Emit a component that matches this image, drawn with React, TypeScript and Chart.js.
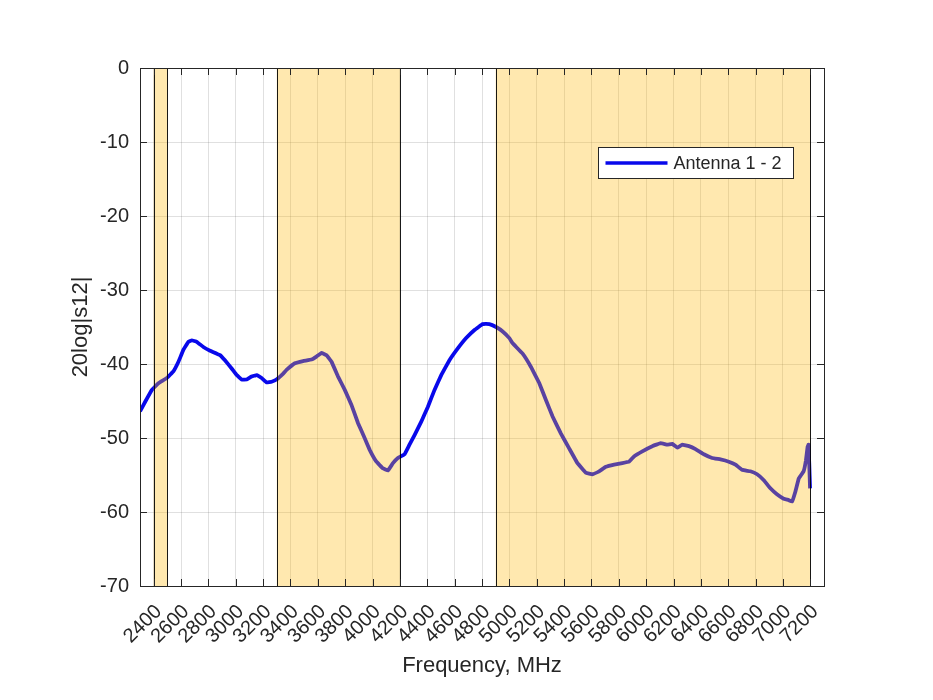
import React, { useEffect, useRef } from "react";
import { Chart, registerables } from "chart.js";

Chart.register(...registerables);

// Frequency (MHz) and 20log|s12| (dB)
const freqMHz = [
  2300, 2338, 2387, 2435, 2496, 2544, 2581, 2617, 2654, 2679, 2715, 2763, 2812, 2885, 2921, 2970,
  3007, 3043, 3080, 3116, 3153, 3189, 3226, 3262, 3298, 3347, 3371, 3432, 3492, 3554, 3590, 3627,
  3663, 3700, 3748, 3797, 3845, 3894, 3942, 3979, 4028, 4076, 4112, 4149, 4185, 4234, 4270, 4307,
  4356, 4404, 4453, 4502, 4562, 4623, 4684, 4745, 4805, 4854, 4903, 4951, 5000, 5024, 5097, 5158,
  5219, 5268, 5316, 5377, 5437, 5498, 5559, 5607, 5656, 5705, 5766, 5826, 5875, 5911, 5972, 6045,
  6106, 6154, 6191, 6227, 6264, 6313, 6361, 6422, 6482, 6543, 6604, 6653, 6701, 6762, 6811, 6860,
  6908, 6956, 7005, 7042, 7066, 7090, 7115, 7151, 7168, 7180, 7187, 7192, 7198,
];
const s12dB = [
  -46.4, -45.1, -43.5, -42.6, -41.9, -41.0, -39.7, -38.1, -37.0, -36.8, -37.0, -37.7, -38.2, -38.8, -39.5, -40.6,
  -41.5, -42.1, -42.1, -41.7, -41.5, -41.9, -42.5, -42.4, -42.1, -41.3, -40.8, -39.9, -39.6, -39.4, -39.0, -38.5,
  -38.8, -39.7, -41.7, -43.5, -45.5, -48.0, -50.0, -51.6, -53.2, -54.1, -54.4, -53.4, -52.7, -52.2, -50.9, -49.6,
  -47.8, -45.8, -43.5, -41.5, -39.5, -37.9, -36.5, -35.4, -34.6, -34.6, -35.0, -35.6, -36.5, -37.2, -38.6, -40.4,
  -42.6, -44.9, -47.1, -49.4, -51.4, -53.4, -54.7, -54.9, -54.5, -53.9, -53.6, -53.4, -53.2, -52.5, -51.8, -51.1,
  -50.7, -50.9, -50.8, -51.3, -50.9, -51.1, -51.5, -52.2, -52.7, -52.9, -53.2, -53.6, -54.3, -54.5, -54.9, -55.7,
  -56.8, -57.6, -58.2, -58.4, -58.6, -57.3, -55.5, -54.5, -53.0, -51.2, -50.9, -53.4, -56.8,
];

// Highlighted frequency bands (MHz)
const bandStarts = [2400, 3300, 4900];
const bandEnds = [2500, 4200, 7200];

// Axis ticks
const xTicks = [
  2400, 2600, 2800, 3000, 3200, 3400, 3600, 3800, 4000, 4200, 4400, 4600, 4800,
  5000, 5200, 5400, 5600, 5800, 6000, 6200, 6400, 6600, 6800, 7000, 7200,
];
const yTicks = [0, -10, -20, -30, -40, -50, -60, -70];

const seriesLabel = "Antenna 1 - 2";
const xTitle = "Frequency, MHz";
const yTitle = "20log|s12|";

const FONT = "'Liberation Sans', Arial, Helvetica, sans-serif";
const AXIS_COLOR = "#262626";
const LINE_COLOR = "rgb(8,8,235)";
const BAND_FILL = "rgba(255,185,12,0.33)";

const overlayPlugin = {
  id: "overlay",
  afterDatasetsDraw(chart: any) {
    const { ctx, chartArea, scales } = chart;
    const { top, bottom, left, right } = chartArea;
    const xs = scales.x;
    ctx.save();
    ctx.beginPath();
    ctx.rect(left, top, right - left, bottom - top);
    ctx.clip();
    for (let i = 0; i < bandStarts.length; i++) {
      const x0 = xs.getPixelForValue(bandStarts[i]);
      const x1 = xs.getPixelForValue(bandEnds[i]);
      ctx.fillStyle = BAND_FILL;
      ctx.fillRect(x0, top, x1 - x0, bottom - top);
      ctx.strokeStyle = "rgba(0,0,0,0.9)";
      ctx.lineWidth = 1;
      [x0, x1].forEach((px) => {
        const p = Math.round(px) + 0.5;
        ctx.beginPath();
        ctx.moveTo(p, top);
        ctx.lineTo(p, bottom);
        ctx.stroke();
      });
    }
    ctx.restore();
  },
  afterDraw(chart: any) {
    const { ctx, chartArea, scales } = chart;
    const { top, bottom, left, right } = chartArea;
    ctx.save();
    // axes box
    ctx.strokeStyle = AXIS_COLOR;
    ctx.lineWidth = 1;
    ctx.strokeRect(Math.round(left) + 0.5, Math.round(top) + 0.5, Math.round(right - left), Math.round(bottom - top));
    // inner ticks
    const tl = 7;
    ctx.beginPath();
    scales.x.ticks.forEach((t: any) => {
      const p = Math.round(scales.x.getPixelForValue(t.value)) + 0.5;
      ctx.moveTo(p, bottom);
      ctx.lineTo(p, bottom - tl);
      ctx.moveTo(p, top);
      ctx.lineTo(p, top + tl);
    });
    scales.y.ticks.forEach((t: any) => {
      const p = Math.round(scales.y.getPixelForValue(t.value)) + 0.5;
      ctx.moveTo(left, p);
      ctx.lineTo(left + tl, p);
      ctx.moveTo(right, p);
      ctx.lineTo(right - tl, p);
    });
    ctx.stroke();
    // legend
    const lw = 195, lh = 31;
    const lx = Math.round(right - 31 - lw) + 0.5;
    const ly = Math.round(top + 79) + 0.5;
    ctx.fillStyle = "#ffffff";
    ctx.fillRect(lx, ly, lw, lh);
    ctx.strokeStyle = AXIS_COLOR;
    ctx.strokeRect(lx, ly, lw, lh);
    ctx.strokeStyle = LINE_COLOR;
    ctx.lineWidth = 3.5;
    ctx.beginPath();
    ctx.moveTo(lx + 7, ly + lh / 2);
    ctx.lineTo(lx + 69, ly + lh / 2);
    ctx.stroke();
    ctx.fillStyle = AXIS_COLOR;
    ctx.font = `18px ${FONT}`;
    ctx.textBaseline = "middle";
    ctx.textAlign = "left";
    ctx.fillText(chart.data.datasets[0].label, lx + 75, ly + lh / 2 + 1);
    ctx.restore();
  },
};

export default function App() {
  const canvasRef = useRef<HTMLCanvasElement | null>(null);

  useEffect(() => {
    if (!canvasRef.current) return;
    const chart = new Chart(canvasRef.current, {
      type: "line",
      data: {
        datasets: [
          {
            label: seriesLabel,
            data: freqMHz.map((f, i) => ({ x: f, y: s12dB[i] })),
            borderColor: LINE_COLOR,
            borderWidth: 3.8,
            pointRadius: 0,
            tension: 0.05,
            fill: false,
          },
        ],
      },
      options: {
        responsive: false,
        animation: false,
        events: [],
        layout: { padding: { left: 0, top: 68, right: 109, bottom: 0 } },
        plugins: { legend: { display: false }, tooltip: { enabled: false } },
        scales: {
          x: {
            type: "linear",
            min: 2300,
            max: 7300,
            afterBuildTicks: (scale: any) => {
              scale.ticks = xTicks.map((v) => ({ value: v }));
            },
            afterFit: (scale: any) => {
              scale.height = 114;
            },
            ticks: {
              autoSkip: false,
              minRotation: 45,
              maxRotation: 45,
              padding: 14,
              labelOffset: 5,
              color: AXIS_COLOR,
              font: { family: FONT, size: 20 },
              callback: (v: any) => String(v),
            },
            grid: { color: "rgba(38,38,38,0.14)", drawTicks: false, lineWidth: 1 },
            border: { display: false },
            title: {
              display: true,
              text: xTitle,
              color: AXIS_COLOR,
              font: { family: FONT, size: 22 },
              padding: { top: 0, bottom: 21 },
            },
          },
          y: {
            type: "linear",
            min: -70,
            max: 0,
            afterBuildTicks: (scale: any) => {
              scale.ticks = yTicks.map((v) => ({ value: v }));
            },
            afterFit: (scale: any) => {
              scale.width = 140;
            },
            ticks: {
              padding: 11,
              color: AXIS_COLOR,
              font: { family: FONT, size: 20 },
              callback: (v: any) => String(v),
            },
            grid: { color: "rgba(38,38,38,0.14)", drawTicks: false, lineWidth: 1 },
            border: { display: false },
            title: {
              display: true,
              text: yTitle,
              color: AXIS_COLOR,
              font: { family: FONT, size: 22 },
              padding: { top: 68, bottom: 0 },
            },
          },
        },
      },
      plugins: [overlayPlugin],
    });
    return () => chart.destroy();
  }, []);

  return (
    <div style={{ position: "absolute", left: 0, top: 0, width: 933, height: 700, background: "#fff" }}>
      <canvas ref={canvasRef} width={933} height={700} />
    </div>
  );
}
